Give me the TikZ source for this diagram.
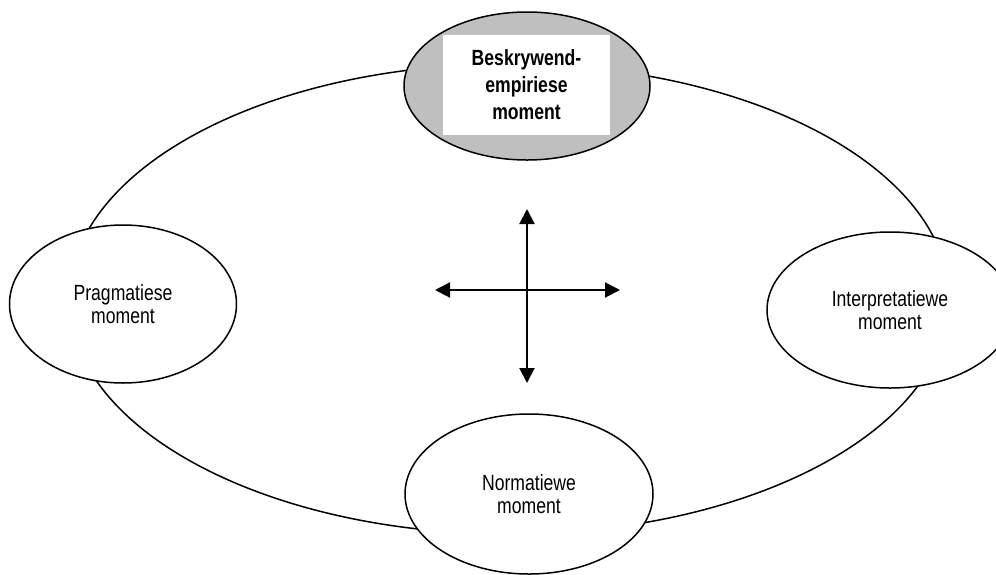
\documentclass[tikz,border=0pt]{standalone}
\usepackage{fontspec}
\newfontfamily\lblfont[FakeStretch=0.8]{Liberation Sans}
\usetikzlibrary{shapes.geometric,arrows.meta}

\tikzset{
  momentnode/.style={ellipse, draw, line width=1.5pt, fill=white, inner sep=0pt,
    align=center, font=\lblfont\fontsize{22}{23}\selectfont},
  dubbelpyl/.style={line width=2pt,
    {Triangle[length=15pt,width=15pt]}-{Triangle[length=15pt,width=15pt]}}
}

\begin{document}
\begin{tikzpicture}[x=1pt,y=-1pt]
    \useasboundingbox (0,0) rectangle (996,574);

    % groot sirkel
    \node (ring) [ellipse, draw, line width=1.5pt, inner sep=0pt,
        minimum width=880pt, minimum height=470pt] at (509,299) {};

    % die vier momente
    \node (beskrywend) [momentnode, fill=black!25,
        minimum width=246pt, minimum height=148pt] at (527,86) {};
    \node (beskrywendteks) [fill=white, inner sep=0pt, align=center,
        minimum width=167pt, minimum height=100pt,
        font=\lblfont\bfseries\fontsize{22}{27}\selectfont] at (526.5,85)
        {Beskrywend-\\empiriese\\moment};

    \node (pragmaties) [momentnode, minimum width=227pt, minimum height=158pt]
        at (123,304) {Pragmatiese\\moment};
    \node (interpretatief) [momentnode, minimum width=246pt, minimum height=156pt]
        at (890,310) {Interpretatiewe\\moment};
    \node (normatief) [momentnode, minimum width=248pt, minimum height=160pt]
        at (529,494) {Normatiewe\\moment};

    % kruis in die middel
    \coordinate (bo) at (527,209);
    \coordinate (onder) at (527,383);
    \coordinate (links) at (435,290);
    \coordinate (regs) at (620,290);
    \draw[dubbelpyl] (bo) -- (onder);
    \draw[dubbelpyl] (links) -- (regs);

\end{tikzpicture}
\end{document}
